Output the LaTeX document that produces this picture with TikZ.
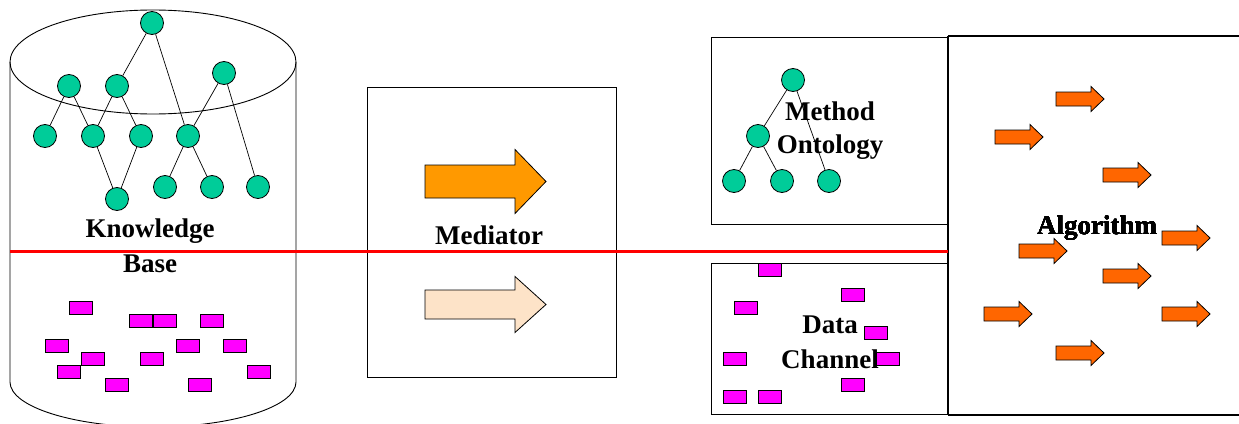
\documentclass[tikz,border=0pt]{standalone}
\usepackage{fontspec}
\setmainfont{Liberation Serif}
\definecolor{nodegreen}{HTML}{00CC99}
\definecolor{blockpink}{HTML}{FF00FF}
\definecolor{medorange}{HTML}{FF9900}
\definecolor{medpeach}{HTML}{FDE3C8}
\definecolor{algorange}{HTML}{FF6600}
\definecolor{divider}{HTML}{FF0000}

% block arrow: #1 style, (#2,#3) tail centre, #4 shaft length, #5 total length,
% #6 shaft half height, #7 head half height
\newcommand\fatarrow[7]{%
  \filldraw[#1] (#2,{#3-#6}) -- ({#2+#4},{#3-#6}) -- ({#2+#4},{#3-#7})
    -- ({#2+#5},#3) -- ({#2+#4},{#3+#7}) -- ({#2+#4},{#3+#6})
    -- (#2,{#3+#6}) -- cycle;}

\begin{document}
\begin{tikzpicture}[x=1pt,y=-1pt,
  outline/.style={draw=black,line width=0.9pt},
  treenode/.style={circle,draw=black,line width=0.8pt,fill=nodegreen,
    minimum size=23pt,inner sep=0pt},
  treeedge/.style={draw=black,line width=0.7pt},
  datablock/.style={draw=black,line width=0.9pt,fill=blockpink,
    minimum width=23pt,minimum height=13pt,inner sep=0pt},
  boldtext/.style={font=\fontsize{27}{35}\selectfont\bfseries,
    align=center,inner sep=0pt},
  algoarrow/.style={draw=black,line width=0.8pt,fill=algorange}
]
\useasboundingbox (0,0) rectangle (1239,423);
\fill[white] (0,0) rectangle (1239,423);

% ---- knowledge base cylinder ----
\draw[outline] (10,62) -- (10,382)
  arc[start angle=180,end angle=0,x radius=143,y radius=45] -- (296,62);
\draw[outline] (153,62) ellipse[x radius=143,y radius=52];

% concept tree
\node[treenode] (r) at (152,23) {};
\node[treenode] (a) at (69,86) {};
\node[treenode] (b) at (117,86) {};
\node[treenode] (c) at (224,73) {};
\node[treenode] (d) at (45,136) {};
\node[treenode] (e) at (93,136) {};
\node[treenode] (f) at (141,136) {};
\node[treenode] (g) at (188,136) {};
\node[treenode] (h) at (117,199) {};
\node[treenode] (i) at (165,187) {};
\node[treenode] (j) at (212,187) {};
\node[treenode] (k) at (258,187) {};
\foreach \u/\v in {r/b,r/g,a/d,a/e,b/e,b/f,e/h,f/h,c/g,c/k,g/i,g/j}
  \draw[treeedge] (\u) -- (\v);

% data records
\foreach \n/\x/\y in {k1/81/308,k2/141/321,k3/165/321,k4/212/321,
    k5/57/346,k6/188/346,k7/235/346,k8/93/359,k9/152/359,
    k10/69/372,k11/259/372,k12/117/385,k13/200/385}
  \node[datablock] (\n) at (\x,\y) {};

\node[boldtext] (kbtext) at (150,246) {Knowledge\\Base};

% ---- mediator ----
\draw[outline] (367,87) rectangle (616,377);
\fatarrow{draw=black,line width=0.8pt,fill=medorange}{425}{181.5}{90}{121}{16.5}{32}
\fatarrow{draw=black,line width=0.8pt,fill=medpeach}{425}{304.5}{90}{121}{14.5}{28}
\node[boldtext] (medtext) at (489,235) {Mediator};

% ---- method ontology ----
\draw[outline] (711,37) rectangle (948,224);
\node[treenode] (m0) at (793,80) {};
\node[treenode] (m1) at (758,136) {};
\node[treenode] (m2) at (734,181) {};
\node[treenode] (m3) at (782,181) {};
\node[treenode] (m4) at (829,181) {};
\foreach \u/\v in {m0/m1,m0/m4,m1/m2,m1/m3}
  \draw[treeedge] (\u) -- (\v);
\node[boldtext,font=\fontsize{27}{33}\selectfont\bfseries] (mtext) at (830,131)
  {Method\\Ontology};

% ---- data channel ----
\draw[outline] (711,263) rectangle (948,414);
\foreach \n/\x/\y in {d1/770/270,d2/853/295,d3/746/308,d4/876/333,
    d5/735/359,d6/888/359,d7/853/385,d8/735/397,d9/770/397}
  \node[datablock] (\n) at (\x,\y) {};
\node[boldtext] (dtext) at (830,342) {Data\\Channel};

% ---- algorithm (box open towards the right margin) ----
\draw[draw=black,line width=1.3pt] (948,36) -- (948,415);
\draw[draw=black,line width=1.3pt] (948,36) -- (1239,36);
\draw[draw=black,line width=1.3pt] (948,415) -- (1239,415);
\foreach \x/\y in {1056/99,995/137,1103/175,1162/238,1019/251,
    1103/276,984/314,1162/314,1056/353}
  \fatarrow{algoarrow}{\x}{\y}{35}{48}{7}{12.5}
\node[boldtext] (atext) at (1097,228) {Algorithm};

% ---- dividing line ----
\draw[divider,line width=3pt] (10,251) -- (948,251);
\end{tikzpicture}
\end{document}
